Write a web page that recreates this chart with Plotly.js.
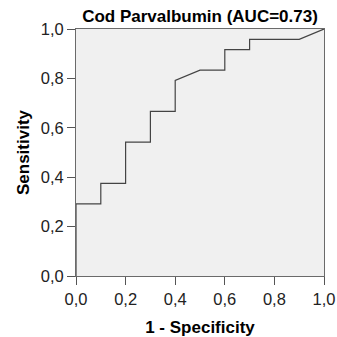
<!DOCTYPE html>
<html><head><meta charset="utf-8">
<script src="https://cdn.plot.ly/plotly-3.0.1.min.js"></script>
<style>html,body{margin:0;padding:0;background:#fff}</style>
</head><body><div id="chart" style="width:337px;height:337px"></div>
<script>
const fpr = [0, 0, 0.1, 0.1, 0.2, 0.2, 0.3, 0.3, 0.4, 0.4, 0.5, 0.6, 0.6, 0.7, 0.7, 0.9, 1.0];
const tpr = [0, 0.2917, 0.2917, 0.375, 0.375, 0.5417, 0.5417, 0.6667, 0.6667, 0.7917, 0.8333, 0.8333, 0.9167, 0.9167, 0.9583, 0.9583, 1.0];
const tickVals = [0, 0.2, 0.4, 0.6, 0.8, 1.0];
const tickText = ["0,0", "0,2", "0,4", "0,6", "0,8", "1,0"];

const fam = "Liberation Sans, Arial, sans-serif";
const axisCommon = {
  range: [0, 1], tickvals: tickVals, ticktext: tickText,
  showgrid: false, zeroline: false,
  showline: true, mirror: true, linecolor: "#6a6a6a", linewidth: 1,
  ticks: "outside", ticklen: 8, tickcolor: "#555", tickwidth: 1,
  tickfont: {family: fam, size: 16.5, color: "#222"},
  fixedrange: true, automargin: false
};
Plotly.newPlot("chart", [{
  x: fpr, y: tpr, type: "scatter", mode: "lines",
  line: {color: "#444", width: 1.2, shape: "linear"},
  hoverinfo: "skip"
}], {
  width: 337, height: 337,
  margin: {l: 76, r: 13, t: 29, b: 61, pad: 0},
  paper_bgcolor: "#fff", plot_bgcolor: "#f0f0f0",
  showlegend: false,
  title: {text: "<b>Cod Parvalbumin (AUC=0.73)</b>", font: {family: fam, size: 17, color: "#000"},
          x: 0.5, xref: "paper", y: 0.952, yref: "container", xanchor: "center", yanchor: "middle"},
  xaxis: Object.assign({}, axisCommon, {
    title: {text: "<b>1 - Specificity</b>", font: {family: fam, size: 17, color: "#000"}, standoff: 15}
  }),
  yaxis: Object.assign({}, axisCommon, {
    title: {text: "<b>Sensitivity</b>", font: {family: fam, size: 17, color: "#000"}, standoff: 6}
  })
}, {staticPlot: true, displayModeBar: false});
</script></body></html>
